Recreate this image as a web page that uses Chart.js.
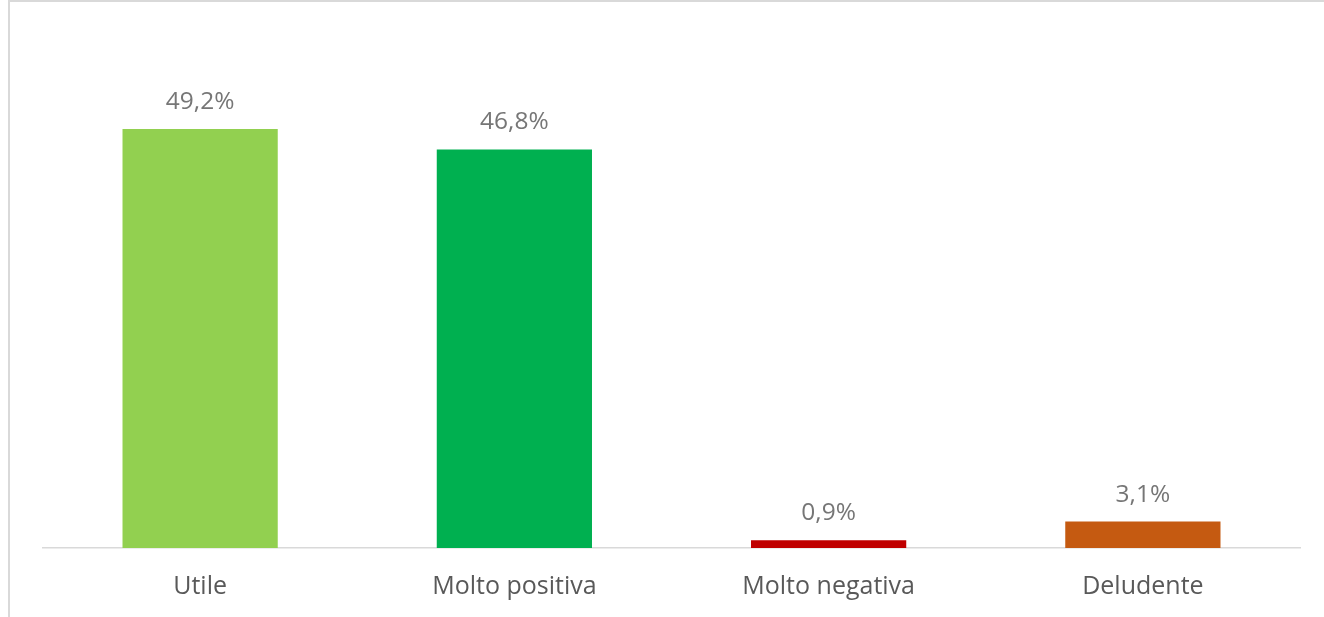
<!DOCTYPE html>
<html><head><meta charset="utf-8">
<script src="https://cdn.jsdelivr.net/npm/chart.js@4"></script>
<style>
html,body{margin:0;padding:0;background:#fff;overflow:hidden;}
#frame{position:absolute;left:8px;top:0px;width:1330px;height:640px;border:2px solid #d9d9d9;box-sizing:border-box;}
#wrap{position:absolute;left:0;top:0;width:1324px;height:617px;}
</style></head>
<body>
<div id="frame"></div>
<div id="wrap"><canvas id="c" width="1324" height="617"></canvas></div>
<script>
const categories = ["Utile", "Molto positiva", "Molto negativa", "Deludente"];
const values = [49.2, 46.8, 0.9, 3.1];
const valueLabels = ["49,2%", "46,8%", "0,9%", "3,1%"];
const barColors = ["#92D050", "#00B050", "#C00000", "#C55A11"];

const labelPlugin = {
  id: 'valLabels',
  afterDatasetsDraw(chart) {
    const ctx = chart.ctx;
    const meta = chart.getDatasetMeta(0);
    ctx.save();
    ctx.font = '24.5px "Open Sans"';
    ctx.fillStyle = '#767676';
    ctx.textAlign = 'center';
    ctx.textBaseline = 'middle';
    meta.data.forEach((bar, i) => {
      ctx.fillText(valueLabels[i], bar.x, bar.y - 27);
    });
    ctx.restore();
  }
};

new Chart(document.getElementById('c'), {
  type: 'bar',
  data: {
    labels: categories,
    datasets: [{
      data: values,
      backgroundColor: barColors,
      categoryPercentage: 1.0,
      barPercentage: 0.494
    }]
  },
  options: {
    responsive: false,
    animation: false,
    layout: { padding: { left: 43, right: 24, top: 37, bottom: 0 } },
    plugins: { legend: { display: false }, tooltip: { enabled: false } },
    scales: {
      y: { display: false, min: 0, max: 60 },
      x: {
        afterFit(scale) { scale.height = 69; },
        grid: { display: false, drawTicks: false },
        border: { display: true, color: '#d9d9d9', width: 1.5 },
        ticks: { color: '#595959', font: { family: '"Open Sans"', size: 25 }, padding: 24 }
      }
    }
  },
  plugins: [labelPlugin]
});
</script>
</body></html>
